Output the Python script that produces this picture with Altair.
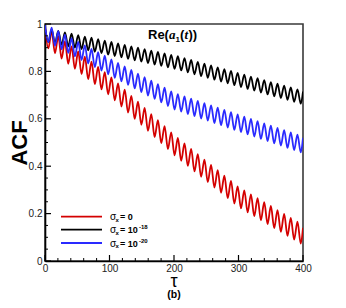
import altair as alt
import pandas as pd

# ---- data ----
series = ["σ = 0", "σ = 1e-18", "σ = 1e-20"]
colors = ["#d40000", "#000000", "#2a2aff"]

peak_tau = [0, 10.3, 20.6, 30.9, 41.2, 51.5, 61.8, 72.1, 82.4, 92.7, 103, 113.3, 123.6,
            133.9, 144.2, 154.5, 164.8, 175.1, 185.4, 195.7, 206, 216.3, 226.6, 236.9,
            247.2, 257.5, 267.8, 278.1, 288.4, 298.7, 309, 319.3, 329.6, 339.9, 350.2,
            360.5, 370.8, 381.1, 391.4]
trough_tau = [5.15, 15.45, 25.75, 36.05, 46.35, 56.65, 66.95, 77.25, 87.55, 97.85, 108.15,
              118.45, 128.75, 139.05, 149.35, 159.65, 169.95, 180.25, 190.55, 200.85, 211.15,
              221.45, 231.75, 242.05, 252.35, 262.65, 272.95, 283.25, 293.55, 303.85, 314.15,
              324.45, 334.75, 345.05, 355.35, 365.65, 375.95, 386.25, 396.55]
end_tau = 400

red_peaks = [0.99, 0.970, 0.949, 0.927, 0.905, 0.884, 0.862, 0.841, 0.819, 0.797, 0.775, 0.749,
             0.723, 0.697, 0.672, 0.646, 0.620, 0.594, 0.569, 0.543, 0.519, 0.496, 0.473, 0.451,
             0.428, 0.406, 0.383, 0.360, 0.338, 0.315, 0.298, 0.281, 0.265, 0.248, 0.232, 0.215,
             0.199, 0.182, 0.166]
red_troughs = [0.897, 0.876, 0.854, 0.832, 0.811, 0.789, 0.767, 0.746, 0.724, 0.703, 0.678, 0.652,
               0.626, 0.600, 0.575, 0.549, 0.523, 0.497, 0.472, 0.446, 0.423, 0.401, 0.378, 0.355,
               0.333, 0.310, 0.288, 0.265, 0.242, 0.222, 0.205, 0.189, 0.172, 0.156, 0.139, 0.123,
               0.106, 0.090, 0.073]
black_peaks = [0.983, 0.977, 0.971, 0.965, 0.959, 0.953, 0.947, 0.942, 0.936, 0.930, 0.924, 0.918,
               0.912, 0.906, 0.900, 0.894, 0.888, 0.882, 0.876, 0.870, 0.864, 0.856, 0.848, 0.840,
               0.833, 0.825, 0.817, 0.809, 0.802, 0.794, 0.786, 0.778, 0.771, 0.763, 0.755, 0.748,
               0.740, 0.732, 0.724]
black_troughs = [0.924, 0.918, 0.912, 0.906, 0.900, 0.894, 0.889, 0.883, 0.877, 0.871, 0.865, 0.859,
                 0.853, 0.847, 0.841, 0.835, 0.829, 0.823, 0.817, 0.811, 0.804, 0.796, 0.788, 0.780,
                 0.773, 0.765, 0.757, 0.750, 0.742, 0.734, 0.726, 0.719, 0.711, 0.703, 0.695, 0.688,
                 0.680, 0.672, 0.664]
blue_peaks = [0.995, 0.985, 0.970, 0.955, 0.940, 0.925, 0.910, 0.895, 0.881, 0.866, 0.851, 0.836,
              0.821, 0.806, 0.791, 0.776, 0.761, 0.746, 0.731, 0.716, 0.704, 0.695, 0.685, 0.676,
              0.666, 0.657, 0.647, 0.638, 0.628, 0.619, 0.609, 0.600, 0.590, 0.581, 0.571, 0.562,
              0.552, 0.543, 0.533]
blue_troughs = [0.923, 0.908, 0.893, 0.878, 0.863, 0.848, 0.833, 0.818, 0.803, 0.788, 0.773, 0.758,
                0.743, 0.728, 0.713, 0.698, 0.684, 0.669, 0.654, 0.639, 0.630, 0.620, 0.611, 0.601,
                0.592, 0.582, 0.573, 0.563, 0.553, 0.544, 0.534, 0.525, 0.515, 0.506, 0.496, 0.487,
                0.477, 0.468, 0.458]
end_values = [0.14, 0.715, 0.52]

x_major = [0, 100, 200, 300, 400]
x_minor = [20, 40, 60, 80, 120, 140, 160, 180, 220, 240, 260, 280, 320, 340, 360, 380]
y_major = [0, 0.2, 0.4, 0.6, 0.8, 1]
y_minor = [0.05, 0.1, 0.15, 0.25, 0.3, 0.35, 0.45, 0.5, 0.55, 0.65, 0.7, 0.75, 0.85, 0.9, 0.95]

# ---- build table ----
rows = []
for name, pk, tr, ev in [(series[0], red_peaks, red_troughs, end_values[0]),
                         (series[1], black_peaks, black_troughs, end_values[1]),
                         (series[2], blue_peaks, blue_troughs, end_values[2])]:
    for t, v in zip(peak_tau, pk):
        rows.append({"tau": t, "acf": v, "series": name})
    for t, v in zip(trough_tau, tr):
        rows.append({"tau": t, "acf": v, "series": name})
    rows.append({"tau": end_tau, "acf": ev, "series": name})
df = pd.DataFrame(rows).sort_values(["series", "tau"])

W, H = 258, 237
FONT = "Liberation Sans"
dummy = pd.DataFrame({"d": [0]})

lines = alt.Chart(df).mark_line(interpolate="monotone", strokeWidth=1.8, clip=True).encode(
    x=alt.X("tau:Q", scale=alt.Scale(domain=[0, 400], nice=False, zero=False),
            axis=alt.Axis(values=x_major, ticks=False, grid=False, title=None,
                          labelFontSize=10, labelColor="#222", labelFont=FONT,
                          labelFlush=False, labelPadding=2, domainColor="#000",
                          domainWidth=1.6)),
    y=alt.Y("acf:Q", scale=alt.Scale(domain=[0, 1], nice=False, zero=False),
            axis=alt.Axis(values=y_major, format="~g", ticks=False, grid=False, title=None,
                          labelFontSize=10, labelColor="#222", labelFont=FONT,
                          labelFlush=False, labelPadding=3, domainColor="#000",
                          domainWidth=1.6)),
    color=alt.Color("series:N", scale=alt.Scale(domain=series, range=colors), legend=None),
    order=alt.Order("tau:Q"),
)

xmaj = alt.Chart(pd.DataFrame({"v": x_major})).mark_rule(color="#000", strokeWidth=1.2).encode(
    x=alt.X("v:Q"), y=alt.value(H), y2=alt.value(H - 6))
xmin = alt.Chart(pd.DataFrame({"v": x_minor})).mark_rule(color="#000", strokeWidth=1).encode(
    x=alt.X("v:Q"), y=alt.value(H), y2=alt.value(H - 3))
ymaj = alt.Chart(pd.DataFrame({"v": y_major})).mark_rule(color="#000", strokeWidth=1.2).encode(
    y=alt.Y("v:Q"), x=alt.value(0), x2=alt.value(6))
ymin = alt.Chart(pd.DataFrame({"v": y_minor})).mark_rule(color="#000", strokeWidth=1).encode(
    y=alt.Y("v:Q"), x=alt.value(0), x2=alt.value(3))


def txt(s, x, y, size, weight="normal", style="normal", font=FONT, align="left",
        angle=0, baseline="alphabetic"):
    return alt.Chart(dummy).mark_text(
        text=s, fontSize=size, fontWeight=weight, fontStyle=style, font=font,
        align=align, baseline=baseline, angle=angle, color="#000"
    ).encode(x=alt.value(x), y=alt.value(y))


texts = [
    txt("ACF", -25, 119, 22, weight="bold", align="center", angle=270, baseline="middle"),
    txt("τ", 129, 262.5, 18, align="center"),
    txt("(b)", 129, 274, 10.5, weight="bold", align="center"),
    # panel title Re(a1(t))
    txt("Re(", 103, 15, 13, weight="bold"),
    txt("a", 124, 15, 13, weight="bold", style="italic", font="Liberation Serif"),
    txt("1", 130.5, 18, 8, weight="bold"),
    txt("(", 135, 15, 13, weight="bold"),
    txt("t", 139.5, 15, 13, weight="bold", style="italic", font="Liberation Serif"),
    txt("))", 143.5, 15, 13, weight="bold"),
]

legend_y = [192.7, 205.7, 219]
legend_layers = []
for i, y in enumerate(legend_y):
    legend_layers.append(
        alt.Chart(dummy).mark_rule(color=colors[i], strokeWidth=1.8).encode(
            x=alt.value(16), x2=alt.value(57), y=alt.value(y)))
    legend_layers.append(txt("σ", 65, y + 3.5, 10))
    legend_layers.append(txt("x", 70.5, y + 5, 6, weight="bold"))
legend_layers.append(txt("= 0", 75, legend_y[0] + 3.5, 9, weight="bold"))
legend_layers.append(txt("= 10", 75, legend_y[1] + 3.5, 9, weight="bold"))
legend_layers.append(txt("-18", 94, legend_y[1] - 0.5, 6, weight="bold"))
legend_layers.append(txt("= 10", 75, legend_y[2] + 3.5, 9, weight="bold"))
legend_layers.append(txt("-20", 94, legend_y[2] - 0.5, 6, weight="bold"))

chart = alt.layer(lines, xmin, xmaj, ymin, ymaj, *texts, *legend_layers).properties(
    width=W, height=H,
    autosize=alt.AutoSizeParams(type="none"),
    padding={"left": 37, "top": 16, "right": 35, "bottom": 39},
).configure_view(stroke="#3a3a3a", strokeWidth=1.6)

chart.save("out.html", embed_options={"renderer": "svg", "actions": False})
